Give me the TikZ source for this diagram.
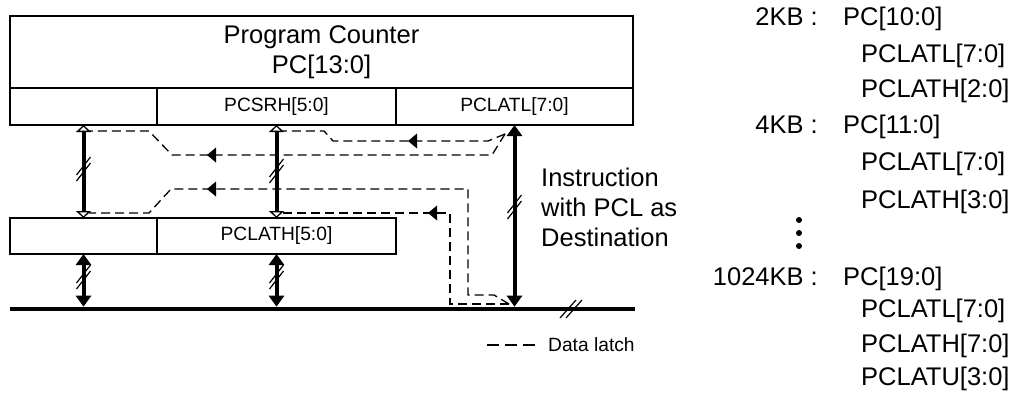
\documentclass[tikz,border=0pt]{standalone}
\usepackage{fontspec}
\setmainfont{Liberation Sans}
\usetikzlibrary{arrows.meta}

\tikzset{
  openhead/.tip={Triangle[open, line width=1.3pt, width=15pt, length=7pt]},
  solidhead/.tip={Triangle[width=15pt, length=11pt]},
  cell/.style={draw, line width=1.3pt, anchor=north west, inner sep=0pt, outer sep=0pt, font=\fontsize{19.2}{23}\selectfont},
  bigtext/.style={font=\fontsize{25.5}{30}\selectfont},
  label/.style={bigtext, inner sep=0pt},
  wide/.style={line width=4pt},
  latchline/.style={line width=1.3pt, dash pattern=on 9pt off 5pt},
  cut/.pic={\draw[line width=1.2pt] (-7,6) -- (7,-12) (-7,12) -- (7,-6);},
  buscut/.pic={\draw[line width=1.2pt] (-11,9) -- (5,-9) (-5,9) -- (11,-9);},
  flowtip/.pic={\fill (0,0) -- (9,-7.5) -- (9,7.5) -- cycle;}
}

\begin{document}
\begin{tikzpicture}[x=1pt, y=-1pt]
\useasboundingbox (0,0) rectangle (1019,394);

\node[cell, bigtext, align=center, minimum width=623pt, minimum height=72pt] (pc) at (10,16) {Program Counter\\PC[13:0]};
\node[cell, minimum width=147pt, minimum height=37pt] (pcu) at (10,88) {};
\node[cell, minimum width=239pt, minimum height=37pt] (pcsrh) at (157,88) {PCSRH[5:0]};
\node[cell, minimum width=237pt, minimum height=37pt] (pclatl) at (396,88) {PCLATL[7:0]};
\node[cell, minimum width=147pt, minimum height=36pt] (lathu) at (10,218) {};
\node[cell, minimum width=239pt, minimum height=36pt] (pclath) at (157,218) {PCLATH[5:0]};

\coordinate (busw) at (10,309);
\coordinate (buse) at (635,309);
\coordinate (srcT) at (505,134);
\coordinate (srcB) at (509,304);
\coordinate (lat1) at (89,131);
\coordinate (lat2) at (282,131);
\coordinate (lat3) at (89,213);
\coordinate (lat4) at (282,213);

\draw[latchline] (srcT) -- (492,155) -- (172,155) -- (149,131) -- (lat1);
\draw[latchline] (srcT) -- (488,141) -- (333,141) -- (324,131) -- (lat2);
\draw[latchline] (srcB) -- (494,295) -- (468,295) -- (468,189) -- (171,189) -- (149,213) -- (lat3);
\draw[latchline] (srcB) -- (450,304) -- (450,213) -- (lat4);
\pic at (207,155) {flowtip};
\pic at (408,141) {flowtip};
\pic at (207,189) {flowtip};
\pic at (428,213) {flowtip};

\draw[line width=4.5pt] (busw) -- (buse);
\draw[wide, openhead-openhead] (pcu.south) -- (lathu.north);
\draw[wide, openhead-openhead] (pcsrh.south) -- (pclath.north);
\draw[wide, solidhead-solidhead, shorten >=2.3pt] (lathu.south) -- (lathu.south |- busw);
\draw[wide, solidhead-solidhead, shorten >=2.3pt] (pclath.south) -- (pclath.south |- busw);
\draw[wide, solidhead-solidhead, shorten >=2.3pt] (pclatl.south) -- (pclatl.south |- busw);
\pic at (83.5,169) {cut};
\pic at (276.5,171) {cut};
\pic at (514.5,207) {cut};
\pic at (83.5,277) {cut};
\pic at (276.5,277) {cut};
\pic at (571,309) {buscut};

\node[label, align=left, anchor=west] (instr) at (541,207) {Instruction\\with PCL as\\Destination};

\coordinate (keyA) at (487,345);
\coordinate (keyB) at (535,345);
\draw[latchline, dash pattern=on 11.5pt off 6.5pt] (keyA) -- (keyB);
\node[anchor=west, inner sep=0pt, font=\fontsize{19.2}{23}\selectfont] (key) at (548,345) {Data latch};

\node[label, anchor=base east] (kb2) at (818,25) {2KB :};
\node[label, anchor=base west] (pc2) at (843,25) {PC[10:0]};
\node[label, anchor=base west] (l2) at (861,62) {PCLATL[7:0]};
\node[label, anchor=base west] (h2) at (861,97) {PCLATH[2:0]};
\node[label, anchor=base east] (kb4) at (818,133) {4KB :};
\node[label, anchor=base west] (pc4) at (843,133) {PC[11:0]};
\node[label, anchor=base west] (l4) at (861,170) {PCLATL[7:0]};
\node[label, anchor=base west] (h4) at (861,208) {PCLATH[3:0]};
\fill (799,220) circle (3pt) (799,233) circle (3pt) (799,246) circle (3pt);
\node[label, anchor=base east] (kb1024) at (818,285) {1024KB :};
\node[label, anchor=base west] (pc1024) at (843,285) {PC[19:0]};
\node[label, anchor=base west] (l1024) at (861,317) {PCLATL[7:0]};
\node[label, anchor=base west] (h1024) at (861,352) {PCLATH[7:0]};
\node[label, anchor=base west] (u1024) at (861,385) {PCLATU[3:0]};
\end{tikzpicture}
\end{document}
